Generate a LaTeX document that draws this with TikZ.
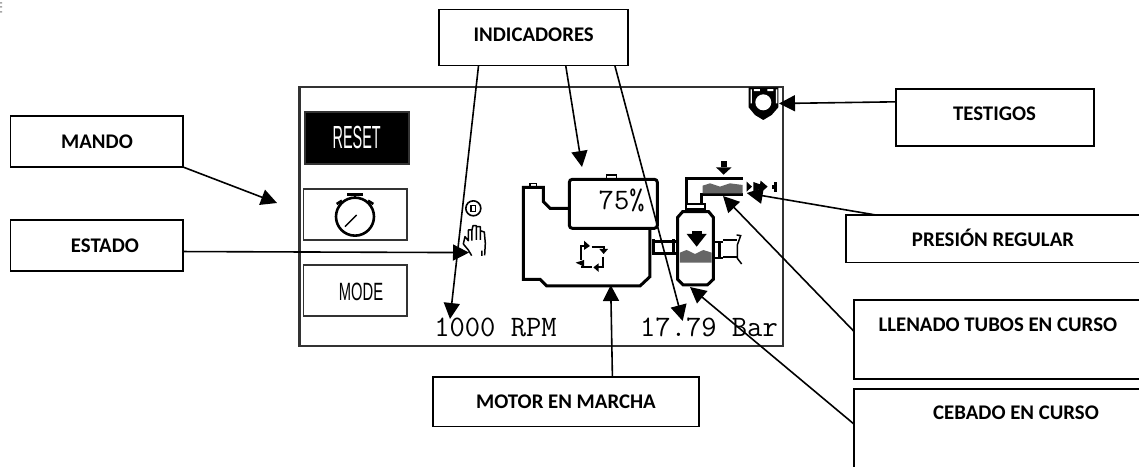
\documentclass[tikz,border=0pt]{standalone}
\usepackage{fontspec}
\usepackage{graphicx}
\usetikzlibrary{arrows.meta}
\setmainfont{Carlito}
\newfontfamily\uifont{Liberation Sans}
\tikzset{
  calloutbox/.style={draw=black,line width=1.8pt,fill=white,inner sep=0pt,outer sep=0pt,anchor=north west},
  lab/.style={inner sep=0pt,outer sep=0pt,anchor=base,font=\fontsize{20.8}{22}\selectfont\bfseries},
  conn/.style={draw=black,line width=1.6pt,-{Triangle[length=16pt,width=16pt]}},
  lcd/.style={inner sep=0pt,outer sep=0pt,anchor=base,font=\ttfamily\fontsize{29.7}{30}\selectfont},
  btn/.style={draw=black!80,line width=1.6pt,inner sep=0pt,outer sep=0pt,anchor=north west},
  ico/.style={draw=black,line width=3pt,line join=miter},
  thinico/.style={draw=black,line width=1.5pt},
}
\newcommand{\boxat}[6]{\node[calloutbox,minimum width=#4pt,minimum height=#5pt] (#1) at (#2,#3) {};}
\begin{document}
\begin{tikzpicture}[x=1pt,y=-1pt]
\useasboundingbox (0,0) rectangle (1139,466);
\clip (0,0) rectangle (1139,466);
\fill[white] (0,0) rectangle (1139,466);
\fill[black!35] (0,2) rectangle (2,3.5) (0,6) rectangle (2,7.5) (0,11) rectangle (2,12.5);

% screen
\node[draw=black!80,line width=2.2pt,inner sep=0pt,outer sep=0pt,anchor=north west,minimum width=483.5pt,minimum height=259pt] (screen) at (299.5,86.7) {};

% buttons
\node[btn,fill=black,minimum width=104pt,minimum height=52pt] (reset) at (305,112) {};
\node[text=white,inner sep=0pt] (resett) at (356.7,137) {\uifont\fontsize{32}{32}\selectfont\scalebox{.45}[1]{RESET}};
\node[btn,minimum width=103.5pt,minimum height=51.5pt] (timer) at (303.5,188.7) {};
\node[btn,minimum width=103.5pt,minimum height=51pt] (mode) at (303.5,265) {};
\node[inner sep=0pt] (modet) at (361,291.7) {\uifont\fontsize{25}{25}\selectfont\scalebox{.59}[1]{MODE}};

% LCD texts
\node[lcd] (rpm) at (495.5,336.7) {1000 RPM};
\node[lcd] (bar) at (709,336.7) {17.79 Bar};

% icons from the first crop
\begin{scope}[shift={(290,80)},x=.3333pt,y=-.3333pt]
  \draw[ico,line width=2.6pt] (195,410) circle[radius=19pt];
  \draw[ico,line width=2.6pt] (172,343)--(220,343) (195,343)--(195,354);
  \draw[ico,line width=2.6pt] (140,372)--(156,362) (250,372)--(234,362);
  \draw[thinico] (165,440)--(200,405);
  \draw[draw=black,line width=1.6pt] (550,385) circle[radius=7.5pt];
  \fill[black] (541,374) rectangle (559,396);
  \fill[white] (546,378) rectangle (554,392);
  \draw[thinico,line join=round] (520,492)--(525,470)--(535,482)--(535,450)--(546,450)--(546,482)
     (546,450)--(549,437)--(559,437)--(559,480)
     (559,440)--(571,440)--(571,480)
     (571,452)--(583,456)--(586,490)--(584,526)
     (520,492)--(535,510)--(545,527) (576,512)--(576,528);
\end{scope}

% icons from the second crop
\begin{scope}[shift={(510,70)},x=.3333pt,y=-.3333pt]
  % engine
  \draw[ico] (175,415)--(120,415)--(100,395)--(100,352)--(40,352)--(40,628)--(90,628)--(110,648)--(390,648)--(420,620)--(420,475);
  \draw[thinico] (60,350)--(60,340)--(80,340)--(80,350);
  % tank
  \draw[ico,rounded corners=3pt] (178,328) rectangle (442,475);
  \node[lcd] (pct) at (335,420) {75\%};
  \draw[thinico] (290,326)--(290,315)--(320,315)--(320,326);
  % motor-running mark
  \draw[thinico,line width=2pt] (212,570)--(212,528)--(228,528) (245,532)--(282,532)--(282,545)
     (280,560)--(280,592)--(262,592) (245,590)--(212,590);
  \fill (222,512)--(240,528)--(222,540)--cycle;
  \fill (268,537)--(294,537)--(281,552)--cycle;
  \fill (250,592)--(266,580)--(266,606)--cycle;
  \fill (197,578)--(222,570)--(222,590)--cycle;
  % connecting pipe
  \draw[ico] (425,515)--(497,515) (425,550)--(497,550);
  \draw[ico] (430,508)--(430,556) (492,508)--(492,556);
  % filter vessel
  \fill[black!60] (510,548)--(530,540)--(555,552)--(580,540)--(605,548)--(605,578)--(510,578)--cycle;
  \draw[ico] (518,425)--(596,425)--(610,442)--(610,628)--(592,645)--(520,645)--(503,628)--(503,442)--cycle;
  \fill (545,483) rectangle (575,492);
  \fill (530,492)--(590,492)--(560,530)--cycle;
  % upper pipe
  \draw[ico] (530,400)--(530,325)--(700,325);
  \draw[ico] (575,400)--(575,375)--(700,375);
  \fill[black!60] (578,347)--(600,340)--(630,350)--(660,340)--(698,345)--(698,370)--(578,370)--cycle;
  \draw[ico,line width=2.2pt] (527,402) rectangle (585,416);
  \fill (632,272) rectangle (650,292);
  \fill (618,292)--(665,292)--(641,314)--cycle;
  % valve
  \fill (710,335)--(726,350)--(710,365)--cycle;
  \fill (730,336)--(750,343)--(752,332)--(773,350)--(752,368)--(750,357)--(730,364)--cycle;
  \fill (785,344) rectangle (792,356);
  \fill (792,335) rectangle (802,365);
  % right pipe
  \fill (612,512) rectangle (640,520);
  \fill (612,560) rectangle (640,568);
  \draw[ico] (628,514)--(628,566);
  \draw[ico,line width=2.2pt] (640,510)--(682,510) (640,562)--(682,562);
  \draw[thinico] (680,495)--(692,497)--(682,525)--(682,565)--(695,582);
  % warning light
  \fill (716,52)--(805,52)--(805,112)--(785,135)--(760,150)--(735,135)--(716,112)--cycle;
  \fill[white] (760,97) circle[radius=8pt];
  \fill[white] (732,57) rectangle (750,63) (772,57) rectangle (790,63);
  \fill[white] (798,58) rectangle (802,100) (722,58) rectangle (726,100);
\end{scope}

% callout boxes
\boxat{mando}{10.5}{116}{172.5}{51}{}
\boxat{estado}{10.5}{220}{172.5}{51}{}
\boxat{indic}{439}{9.5}{189}{56}{}
\boxat{testigos}{895.7}{89}{198}{57}{}
\boxat{presion}{846}{215}{304}{47.5}{}
\boxat{llenado}{854.3}{300}{296}{79}{}
\boxat{cebado}{854.3}{388.7}{296}{92}{}
\boxat{motor}{432.7}{377}{266.3}{49.5}{}

\node[lab] (mandot) at (97,148.3) {MANDO};
\node[lab] (estadot) at (105,252.3) {ESTADO};
\node[lab] (indict) at (533.7,41.7) {INDICADORES};
\node[lab] (testigost) at (994.5,120.7) {TESTIGOS};
\node[lab] (presiont) at (993,246) {PRESIÓN REGULAR};
\node[lab] (llenadot) at (997.8,331.7) {LLENADO TUBOS EN CURSO};
\node[lab] (cebadot) at (1016,419.3) {CEBADO EN CURSO};
\node[lab] (motort) at (566,408.3) {MOTOR EN MARCHA};

% arrow targets
\coordinate (tmando) at (277,203);
\coordinate (testado) at (469,252.6);
\coordinate (trpm) at (450,319);
\coordinate (ttank) at (582,167);
\coordinate (tbar) at (682.7,321);
\coordinate (tlight) at (779,103.5);
\coordinate (tvalve) at (746.7,193);
\coordinate (tfill) at (723,196);
\coordinate (tvessel) at (690,287);
\coordinate (tengine) at (610.7,285);

% connectors
\draw[conn] (mando.south east) -- (tmando);
\draw[conn] (estado.-4.7) -- (testado);
\draw[conn] (indic.207.4) -- (trpm);
\draw[conn] (indic.-41) -- (ttank);
\draw[conn] (indic.-19.6) -- (tbar);
\draw[conn] (testigos.171.1) -- (tlight);
\draw[conn] (presion.169.75) -- (tvalve);
\draw[conn] (llenado.177.87) -- (tfill);
\draw[conn] (cebado.176) -- (tvessel);
\draw[conn] (motor.28.7) -- (tengine);
\end{tikzpicture}
\end{document}
